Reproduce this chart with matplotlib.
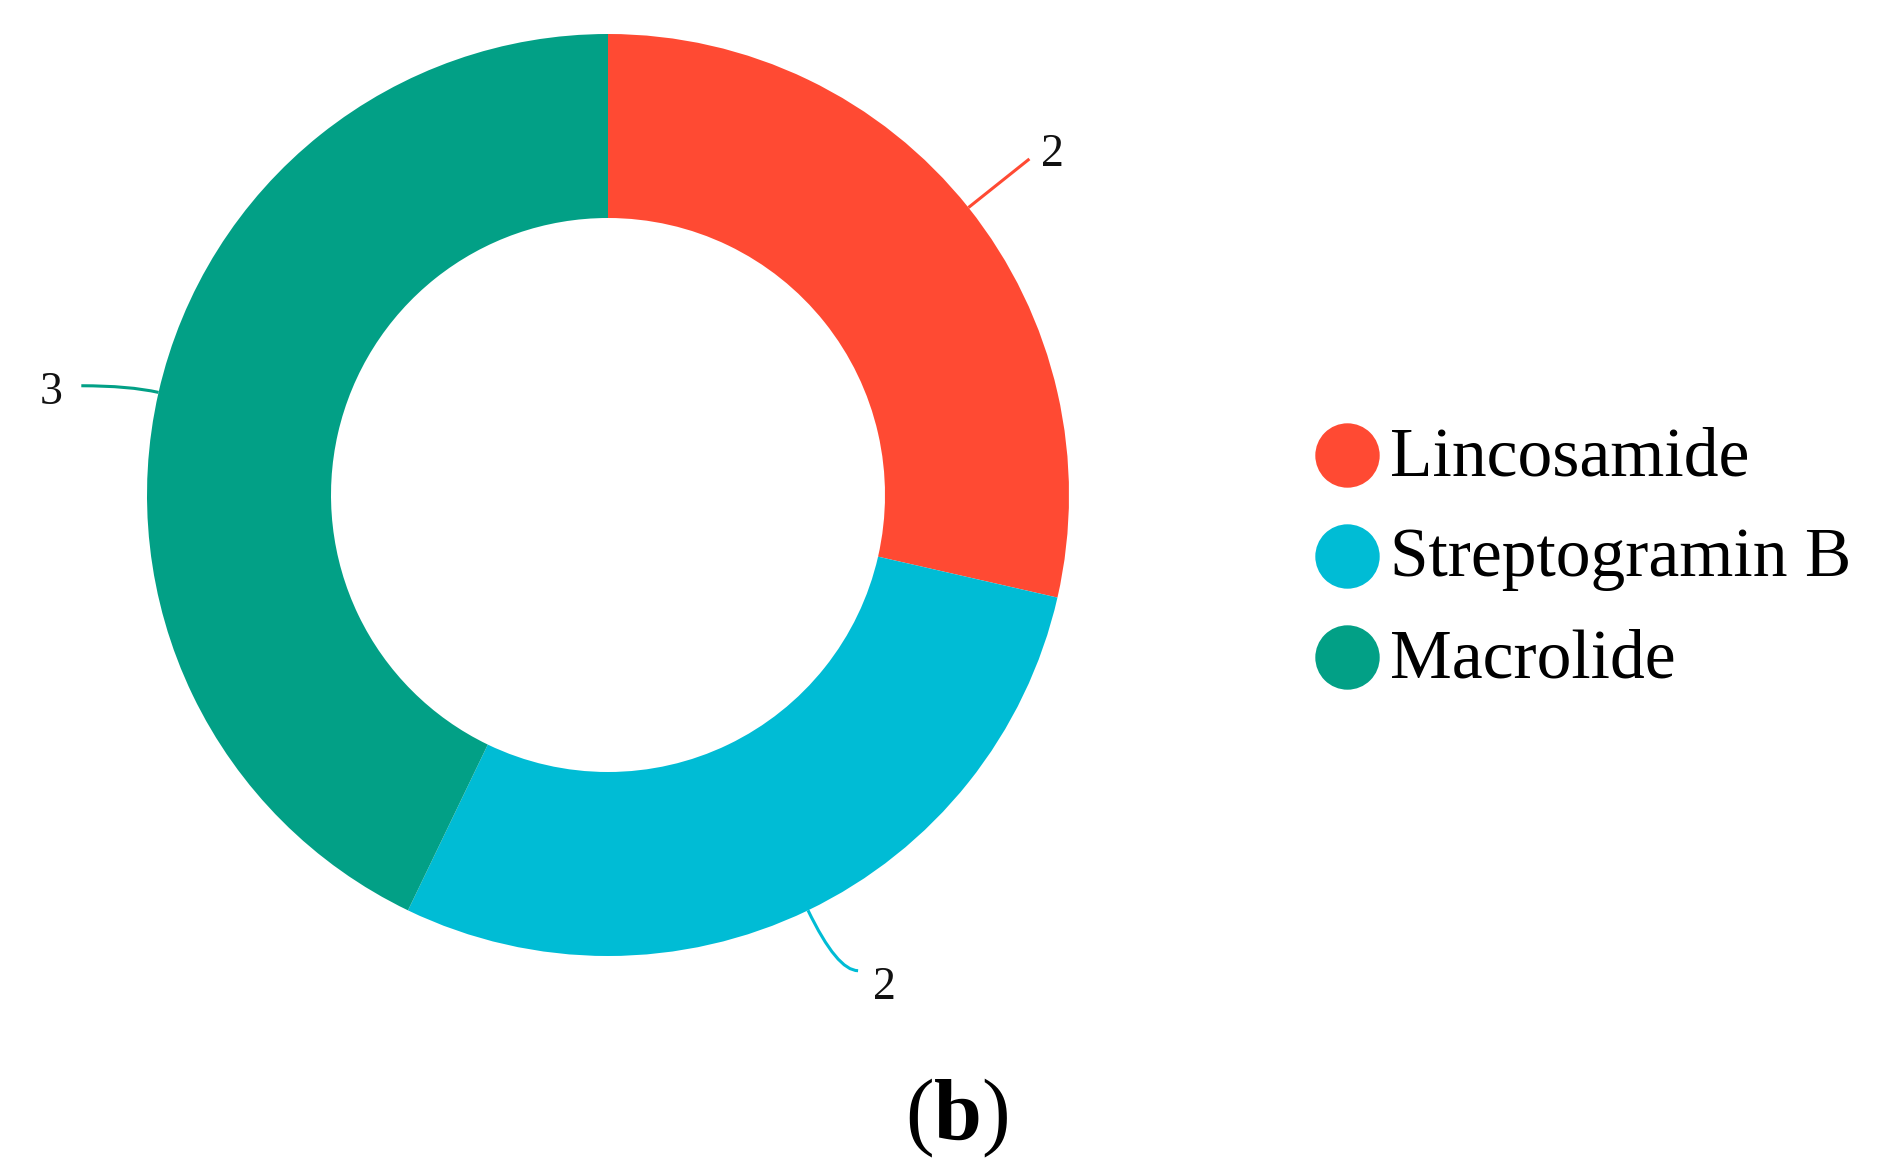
import matplotlib
matplotlib.use("Agg")
import matplotlib.pyplot as plt
from matplotlib.path import Path
from matplotlib.patches import PathPatch
import numpy as np

# data
categories = ["Lincosamide", "Streptogramin B", "Macrolide"]
counts = [2, 2, 3]
colors = ["#FF4A33", "#00BCD5", "#02A086"]

# canvas in pixels (y up)
W, H = 1892, 1170
CX, CY = 608, H - 495
R_OUT, R_IN = 461, 277

# leader line styling per slice: radial length, horizontal length, label offsets
lead_len1 = [78, 67, 30]
lead_len2 = [0, 21, 48]
lbl_dx = [12, 15, 19]
lbl_dy = [4, -17, -7]

plt.rcParams["font.family"] = ["Liberation Serif", "DejaVu Serif"]
plt.rcParams["mathtext.fontset"] = "custom"
plt.rcParams["mathtext.rm"] = "Liberation Serif"
plt.rcParams["mathtext.bf"] = "Liberation Serif:bold"

fig = plt.figure(figsize=(W / 100, H / 100), dpi=100)
ax = fig.add_axes([0, 0, 1, 1])

ax.pie(counts, colors=colors, startangle=90, counterclock=False,
       center=(CX, CY), radius=R_OUT, frame=True,
       wedgeprops=dict(width=R_OUT - R_IN, linewidth=0))
ax.set_xlim(0, W)
ax.set_ylim(0, H)
ax.set_aspect("equal")
ax.axis("off")

# leader lines + value labels
total = sum(counts)
cum = 0
for i, v in enumerate(counts):
    mid = np.deg2rad(90 - (cum + v / 2) / total * 360)
    cum += v
    d = np.array([np.cos(mid), np.sin(mid)])
    p0 = np.array([CX, CY]) + R_OUT * d
    p1 = np.array([CX, CY]) + (R_OUT + lead_len1[i]) * d
    side = 1 if d[0] >= 0 else -1
    p2 = p1 + np.array([side * lead_len2[i], 0])
    path = Path([p0, p1, p2], [Path.MOVETO, Path.CURVE3, Path.CURVE3])
    ax.add_patch(PathPatch(path, fill=False, edgecolor=colors[i], lw=2.2,
                           capstyle="butt"))
    ax.text(p2[0] + side * lbl_dx[i], p2[1] + lbl_dy[i], str(v),
            ha="left" if side > 0 else "right", va="center",
            fontsize=33, color="#111")

# legend
for i, (name, c) in enumerate(zip(categories, colors)):
    y0 = H - (455 + 101 * i)
    ax.scatter([1347], [y0], s=2150, color=c, linewidths=0)
    ax.text(1390, H - (475 + 101 * i), name, ha="left", va="baseline",
            fontsize=50, color="#000")

# panel caption
ax.text(957, H - 1118, r"($\mathbf{b}$)", ha="center", va="center",
        fontsize=62, color="#000")

fig.savefig("out.png", dpi=100)
